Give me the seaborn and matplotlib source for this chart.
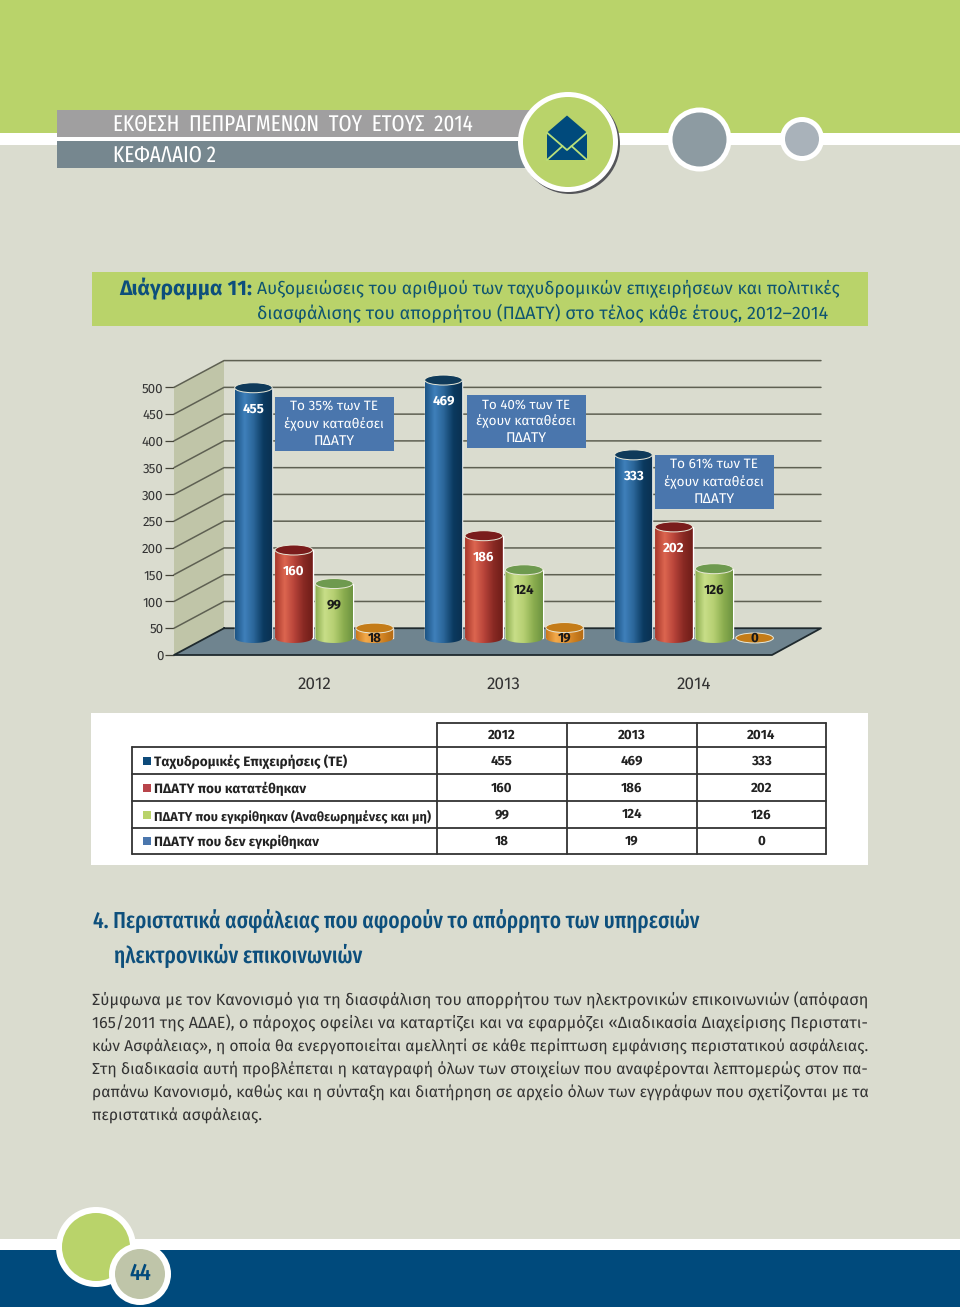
import numpy as np
import pandas as pd
import matplotlib
matplotlib.use('Agg')
import matplotlib.pyplot as plt
from matplotlib.colors import LinearSegmentedColormap
from matplotlib.patches import Circle, Ellipse, Polygon, Rectangle
import seaborn as sns

# values
years = ['2012', '2013', '2014']
series_names = ['Ταχυδρομικές Επιχειρήσεις (ΤΕ)', 'ΠΔΑΤΥ που κατατέθηκαν',
                'ΠΔΑΤΥ που εγκρίθηκαν (Αναθεωρημένες και μη)', 'ΠΔΑΤΥ που δεν εγκρίθηκαν']
te_values = [455, 469, 333]
filed_values = [160, 186, 202]
approved_values = [99, 124, 126]
rejected_values = [18, 19, 0]
y_ticks = [0, 50, 100, 150, 200, 250, 300, 350, 400, 450, 500]
note_percent = ['35', '40', '61']

body_lines = [
    'Σύμφωνα με τον Κανονισμό για τη διασφάλιση του απορρήτου των ηλεκτρονικών επικοινωνιών (απόφαση',
    '165/2011 της ΑΔΑΕ), ο πάροχος οφείλει να καταρτίζει και να εφαρμόζει «Διαδικασία Διαχείρισης Περιστατι-',
    'κών Ασφάλειας», η οποία θα ενεργοποιείται αμελλητί σε κάθε περίπτωση εμφάνισης περιστατικού ασφάλειας.',
    'Στη διαδικασία αυτή προβλέπεται η καταγραφή όλων των στοιχείων που αναφέρονται λεπτομερώς στον πα-',
    'ραπάνω Κανονισμό, καθώς και η σύνταξη και διατήρηση σε αρχείο όλων των εγγράφων που σχετίζονται με τα',
    'περιστατικά ασφάλειας.',
]

W, H = 960, 1307
BACK = '#dadccf'
GREEN = '#b9d36a'
NAVY = '#004a7c'
NOTE = '#4a76ad'
MAIN_FONT = ['Fira Sans', 'Open Sans', 'DejaVu Sans']
NARROW_FONT = ['Fira Sans Extra Condensed', 'Roboto Condensed', 'Open Sans', 'DejaVu Sans']

sns.set_theme(style='white')
plt.rcParams['font.family'] = MAIN_FONT
plt.rcParams['text.hinting'] = 'no_hinting'
plt.rcParams['text.hinting_factor'] = 1

fig = plt.figure(figsize=(W / 100, H / 100), dpi=100, facecolor=BACK)
renderer = fig.canvas.get_renderer()


def pixel_axes(x0, x1, y_top, y_bottom, zorder):
    '''
    Args: pixel box of the axes, measured from the top left of the page
    Outs: transparent axes
    '''
    a = fig.add_axes([x0 / W, 1 - y_bottom / H, (x1 - x0) / W, (y_bottom - y_top) / H], zorder=zorder)
    a.patch.set_alpha(0)
    return a


def fit(t, width):
    '''
    Args: text, width in pixels
    Scales the font so the text is as wide as it is in the page.
    '''
    for _ in range(3):
        t.set_fontsize(t.get_fontsize() * width / t.get_window_extent(renderer).width)


def page_axes(zorder):
    a = pixel_axes(0, W, 0, H, zorder)
    a.set_xlim(0, W)
    a.set_ylim(H, 0)
    a.axis('off')
    return a


def ring(a, x, y, r_out, r_in, color, z=5):
    a.add_patch(Circle((x, y), r_out, fc='white', ec='none', zorder=z))
    a.add_patch(Circle((x, y), r_in, fc=color, ec='none', zorder=z + 0.1))


bg = page_axes(0)
top = page_axes(3)

# page bands
bg.add_patch(Rectangle((0, 0), W, 133, fc=GREEN, ec='none'))
bg.add_patch(Rectangle((0, 133), W, 12, fc='white', ec='none'))
bg.add_patch(Rectangle((0, 1239), W, 11, fc='white', ec='none'))
bg.add_patch(Rectangle((0, 1250), W, 57, fc=NAVY, ec='none'))

# header
bg.add_patch(Rectangle((57, 110), 480, 27, fc='#a09fa0', ec='none'))
bg.add_patch(Rectangle((57, 141), 480, 27, fc='#76878f', ec='none'))
fit(bg.text(113, 126, 'ΕΚΘΕΣΗ  ΠΕΠΡΑΓΜΕΝΩΝ  ΤΟΥ  ΕΤΟΥΣ  2014', color='white', va='center',
            family=NARROW_FONT, weight='normal', fontsize=15), 360)
fit(bg.text(113, 155.5, 'ΚΕΦΑΛΑΙΟ 2', color='white', va='center', family=NARROW_FONT,
            weight='normal', fontsize=15), 103)
bg.add_patch(Circle((570, 144), 50, fc='#55565a', ec='none', zorder=4))
ring(bg, 568, 142, 50, 45, GREEN)
ring(bg, 699.5, 139.5, 32, 27, '#8d9ba2')
ring(bg, 802, 139, 22, 17, '#a9b2ba')
bg.add_patch(Polygon([(547, 132.7), (567, 115.5), (587, 132.7), (587, 160), (547, 160)],
                     fc=NAVY, ec='none', zorder=6))
bg.plot([547, 567, 587], [132.7, 150, 132.7], color='#b9e07a', lw=1.3, zorder=7)
bg.plot([547, 562.5], [160, 146], color='#b9e07a', lw=1.3, zorder=7)
bg.plot([587, 571.5], [160, 146], color='#b9e07a', lw=1.3, zorder=7)

# chart title
bg.add_patch(Rectangle((92, 272), 776, 54, fc=GREEN, ec='none'))
fit(bg.text(119, 288.5, 'Διάγραμμα 11:', color='#0d4f7c', weight='bold', va='center', fontsize=13), 133)
fit(bg.text(257, 288.5, 'Αυξομειώσεις του αριθμού των ταχυδρομικών επιχειρήσεων και πολιτικές',
            color='#0e5470', va='center', fontsize=13), 583)
fit(bg.text(257, 313.5, 'διασφάλισης του απορρήτου (ΠΔΑΤΥ) στο τέλος κάθε έτους, 2012–2014',
            color='#0e5470', va='center', fontsize=13), 571)

# chart walls, the ticks are on the front edge and the grid sits one step higher at the back
ax_wall = pixel_axes(174, 821, 360.6, 655, 1)
ax_wall.set_xlim(174, 821)
ax_wall.set_ylim(0, 550)
sns.despine(ax=ax_wall, left=True, bottom=True)
ax_wall.set_xticks([])
ax_wall.set_yticks(y_ticks)
ax_wall.tick_params(axis='y', length=6.5, width=0.9, color='#444438', labelsize=9.6,
                    labelcolor='#333333', pad=1, left=True)
ax_wall.add_patch(Polygon([(174, 0), (224, 50), (224, 550), (174, 500)], fc='#c0c5a8', ec='none'))
ax_wall.add_patch(Polygon([(174, 0), (224, 50), (821, 50), (772, 0)], fc='#6f848f', ec='none'))
step = y_ticks[1]
for v in y_ticks[1:]:
    ax_wall.plot([174, 224, 821], [v, v + step, v + step], color='#5e6052', lw=1.1, clip_on=False)
ax_wall.plot([224, 821, 772, 174, 224], [50, 50, 0, 0, 50], color='#1f2a2e', lw=1.3, clip_on=False)

# cylinders
df = pd.DataFrame({
    'year': years * 4,
    'series': np.repeat(series_names, 3),
    'value': te_values + filed_values + approved_values + rejected_values,
})
ax_bars = pixel_axes(219, 789, 363, 654.5, 2)
sns.barplot(data=df, x='year', y='value', hue='series', hue_order=series_names, ax=ax_bars,
            palette=['#1f5a8a', '#b8444a', '#9dbb5a', '#d98a25'], width=0.85, gap=0.07,
            legend=False, errorbar=None)
ax_bars.set_xlabel('')
ax_bars.set_ylabel('')
ax_bars.set_yticks([])
ax_bars.tick_params(axis='x', length=0, pad=15.5, labelsize=12.3, labelcolor='#333333')
sns.despine(ax=ax_bars, left=True, bottom=True)

gradients = [['#1c5485', '#3f80bb', '#2a6598', '#0b3a60', '#0a3050'],
             ['#a8382c', '#dd6650', '#b8443a', '#8a2a24', '#6f1d18'],
             ['#8aac4e', '#c8de88', '#b5cf72', '#8cae50', '#6d9440'],
             ['#c97a1d', '#f2a94a', '#e8983a', '#cc7f20', '#b26a14']]
cap_colors = ['#0f3a5a', '#7a1c1c', '#6e9a4f', '#c47c18']
label_colors = ['white', 'white', '#1a1a1a', '#1a1a1a']
PX = 0.55  # pixels for one unit on the cylinder scale
cap_b = 5 / PX
strip = np.linspace(0, 1, 64).reshape(1, -1)

for i, container in enumerate(ax_bars.containers):
    cmap = LinearSegmentedColormap.from_list(f's{i}', gradients[i])
    for bar in container:
        left, w, h = bar.get_x(), bar.get_width(), bar.get_height()
        cx = left + w / 2
        if h > 0:
            t = np.linspace(-1, 1, 40)
            arc = np.column_stack([cx + t * w / 2, -cap_b * np.sqrt(1 - t ** 2)])
            body = Polygon(np.vstack([arc, [[left + w, h], [left, h]]]), transform=ax_bars.transData,
                           fc='none', ec='none')
            ax_bars.add_patch(body)
            im = ax_bars.imshow(strip, cmap=cmap, extent=(left, left + w, -cap_b, h), aspect='auto', zorder=3)
            im.set_clip_path(body)
        ax_bars.add_patch(Ellipse((cx, h), w, 2 * cap_b, fc=cap_colors[i], ec='#e8e8d8', lw=0.7, zorder=4))
        # labels sit inside the cylinder, low ones on the front of the disc
        px_h = h * PX
        y_label = h - (21 if px_h > 30 else 10 if px_h > 0 else 0) / PX
        ax_bars.text(cx, y_label, f'{h:.0f}', ha='center', va='center', color=label_colors[i],
                     weight='bold', fontsize=9.6, zorder=5)
ax_bars.set_xlim(-0.5, 2.5)
ax_bars.set_ylim(-30, 500)

# notes beside the tall cylinders
note_boxes = [(275, 397), (467, 394.5), (655, 455)]
for (x, y), pct in zip(note_boxes, note_percent):
    top.add_patch(Rectangle((x, y), 118.5, 53.5, fc=NOTE, ec='none'))
    lines = [f'Το {pct}% των ΤΕ', 'έχουν καταθέσει', 'ΠΔΑΤΥ']
    for k, (line, tw) in enumerate(zip(lines, [88, 100, 41])):
        fit(top.text(x + 59, y + 10 + k * 17, line, color='white', ha='center', va='center', fontsize=9.5), tw)

# table panel
bg.add_patch(Rectangle((91, 713), 777, 152, fc='white', ec='none'))
row_y = [723.3, 747, 774, 801, 827.5, 854]
col_x = [437, 567, 696.5, 826]
TC = '#333333'
for y in row_y[1:]:
    bg.plot([132, 826], [y, y], color=TC, lw=1.3)
bg.plot([437, 826], [row_y[0], row_y[0]], color=TC, lw=1.3)
bg.plot([132, 132], [row_y[1], row_y[-1]], color=TC, lw=1.3)
for x in col_x:
    bg.plot([x, x], [row_y[0], row_y[-1]], color=TC, lw=1.3)
for j, year in enumerate(years):
    cx = (col_x[j] + col_x[j + 1]) / 2
    bg.text(cx, 735.5, year, ha='center', va='center', weight='bold', color='#222222', fontsize=9.6)
label_widths = [193, 152, 277, 165]
swatches = ['#0d4a7a', '#b8444a', '#b9d36a', '#4a76ad']
table_rows = [te_values, filed_values, approved_values, rejected_values]
for r, name in enumerate(series_names):
    y = (row_y[r + 1] + row_y[r + 2]) / 2
    bg.add_patch(Rectangle((142.5, y - 3.5), 8, 8, fc=swatches[r], ec='none'))
    fit(bg.text(154, y + 1.5, name, va='center', weight='bold', color='#222222', fontsize=9), label_widths[r])
    for j, v in enumerate(table_rows[r]):
        cx = (col_x[j] + col_x[j + 1]) / 2
        bg.text(cx, y + 0.5, str(v), ha='center', va='center', weight='bold', color='#222222', fontsize=9.6)

# section text
fit(bg.text(93, 921.5, '4. Περιστατικά ασφάλειας που αφορούν το απόρρητο των υπηρεσιών', color='#0d4f7c',
            va='center', weight='medium', family=NARROW_FONT, fontsize=17), 606)
fit(bg.text(114, 955.5, 'ηλεκτρονικών επικοινωνιών', color='#0d4f7c', va='center', weight='medium',
            family=NARROW_FONT, fontsize=17), 248)
body_y = [1000, 1023, 1047, 1070, 1093, 1116]
body_w = [776, 776, 776, 776, 776, 170]
for line, y, tw in zip(body_lines, body_y, body_w):
    fit(bg.text(92, y, line, color='#333333', va='center', fontsize=11), tw)

# page number
ring(bg, 96, 1247, 40, 34, GREEN)
ring(bg, 140, 1274, 31, 25, '#bfc5a9', z=6)
bg.text(140, 1274, '44', color=NAVY, ha='center', va='center', weight='medium', family=NARROW_FONT,
        fontsize=17, zorder=8)

fig.savefig('out.png', dpi=100, facecolor=BACK)
